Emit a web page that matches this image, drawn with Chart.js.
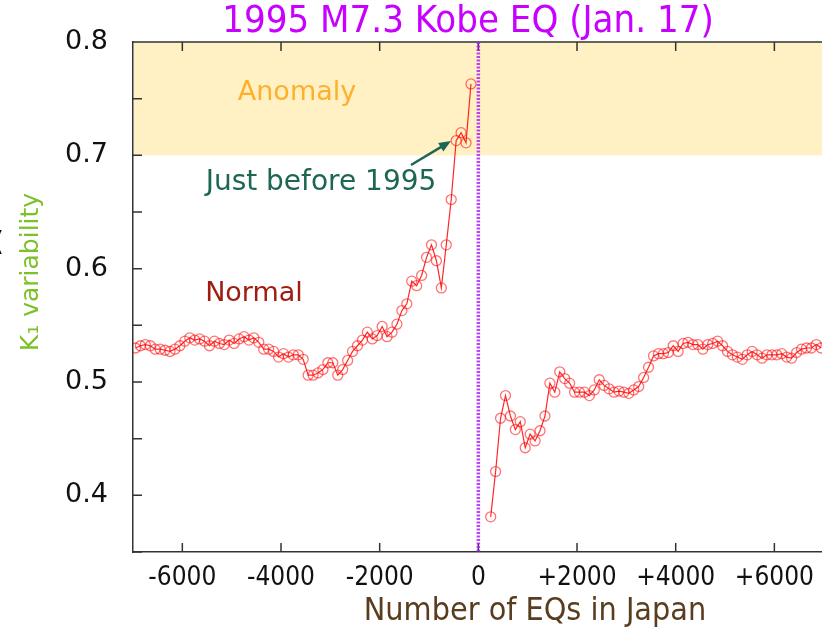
<!DOCTYPE html>
<html lang="en">
<head>
<meta charset="UTF-8">
<title>1995 M7.3 Kobe EQ | K1 variability</title>
<script src="https://cdn.jsdelivr.net/npm/chart.js"></script>
<style>
  html, body { margin: 0; padding: 0; background: #fff; overflow: hidden; }
  #kobeChart { display: block; }
</style>
</head>
<body>
<canvas id="kobeChart" width="830" height="632"></canvas>
<script>
// EQ count relative to the Kobe event, and K1 variability
const beforeX = [-6950, -6850, -6750, -6650, -6550, -6450, -6350, -6250, -6150, -6050,
                 -5950, -5850, -5750, -5650, -5550, -5450, -5350, -5250, -5150, -5050,
                 -4950, -4850, -4750, -4650, -4550, -4450, -4350, -4250, -4150, -4050,
                 -3950, -3850, -3750, -3650, -3550, -3450, -3350, -3250, -3150, -3050,
                 -2950, -2850, -2750, -2650, -2550, -2450, -2350, -2250, -2150, -2050,
                 -1950, -1850, -1750, -1650, -1550, -1450, -1350, -1250, -1150, -1050,
                 -950, -850, -750, -650, -550, -450, -350, -250, -150];
const beforeK = [0.530, 0.532, 0.533, 0.532, 0.529, 0.529, 0.528, 0.527, 0.529, 0.532,
                 0.536, 0.539, 0.537, 0.538, 0.536, 0.532, 0.536, 0.534, 0.533, 0.537,
                 0.534, 0.538, 0.540, 0.537, 0.539, 0.535, 0.529, 0.529, 0.527, 0.522,
                 0.525, 0.522, 0.524, 0.524, 0.520, 0.506, 0.506, 0.508, 0.511, 0.517,
                 0.517, 0.506, 0.511, 0.519, 0.527, 0.532, 0.537, 0.544, 0.538, 0.541,
                 0.549, 0.540, 0.544, 0.551, 0.563, 0.569, 0.589, 0.585, 0.594, 0.610,
                 0.621, 0.607, 0.583, 0.621, 0.661, 0.713, 0.720, 0.711, 0.763];

const afterX = [250, 350, 450, 550, 650, 750, 850, 950, 1050, 1150,
                1250, 1350, 1450, 1550, 1650, 1750, 1850, 1950, 2050, 2150,
                2250, 2350, 2450, 2550, 2650, 2750, 2850, 2950, 3050, 3150,
                3250, 3350, 3450, 3550, 3650, 3750, 3850, 3950, 4050, 4150,
                4250, 4350, 4450, 4550, 4650, 4750, 4850, 4950, 5050, 5150,
                5250, 5350, 5450, 5550, 5650, 5750, 5850, 5950, 6050, 6150,
                6250, 6350, 6450, 6550, 6650, 6750, 6850, 6950];
const afterK = [0.381, 0.421, 0.468, 0.488, 0.470, 0.458, 0.465, 0.442, 0.454, 0.448,
                0.457, 0.470, 0.499, 0.491, 0.509, 0.503, 0.499, 0.491, 0.491, 0.491,
                0.488, 0.493, 0.502, 0.497, 0.494, 0.491, 0.492, 0.491, 0.490, 0.493,
                0.496, 0.504, 0.513, 0.523, 0.525, 0.525, 0.526, 0.532, 0.527, 0.534,
                0.535, 0.533, 0.533, 0.529, 0.533, 0.534, 0.536, 0.532, 0.527, 0.524,
                0.522, 0.520, 0.524, 0.527, 0.524, 0.521, 0.524, 0.524, 0.524, 0.525,
                0.522, 0.521, 0.526, 0.529, 0.530, 0.530, 0.533, 0.530];

const xTicks = [-6000, -4000, -2000, 0, 2000, 4000, 6000];
const yTicks = [0.4, 0.5, 0.6, 0.7, 0.8];
const yMinorTicks = [0.35, 0.45, 0.55, 0.65, 0.75];
const anomalyBand = [0.7, 0.8];
const eventX = 0;

const FONT = "'DejaVu Sans Condensed', 'DejaVu Sans', sans-serif";
const FONT_WIDE = "'DejaVu Sans', sans-serif";

// band, inward ticks, event line, then the labels on top
const decorations = {
  id: 'decorations',
  beforeDatasetsDraw(chart) {
    const { ctx, chartArea: a, scales: { x, y } } = chart;
    ctx.save();

    const bandTop = y.getPixelForValue(anomalyBand[1]);
    const bandBottom = y.getPixelForValue(anomalyBand[0]);
    ctx.fillStyle = '#fff1c4';
    ctx.fillRect(a.left + 1, bandTop, a.right - a.left, bandBottom - bandTop);

    ctx.strokeStyle = '#333';
    ctx.lineWidth = 1.5;
    ctx.beginPath();
    ctx.moveTo(a.left, a.top);
    ctx.lineTo(a.right, a.top);
    xTicks.forEach(v => {
      const px = x.getPixelForValue(v);
      ctx.moveTo(px, a.bottom); ctx.lineTo(px, a.bottom - 9);
      ctx.moveTo(px, a.top); ctx.lineTo(px, a.top + 9);
    });
    yTicks.concat(yMinorTicks).forEach(v => {
      const py = y.getPixelForValue(v);
      ctx.moveTo(a.left, py); ctx.lineTo(a.left + 9, py);
    });
    ctx.stroke();

    const ex = x.getPixelForValue(eventX);
    ctx.strokeStyle = 'rgba(180, 30, 255, 0.85)';
    ctx.lineWidth = 3.5;
    ctx.setLineDash([2, 1.5]);
    ctx.beginPath();
    ctx.moveTo(ex, a.top);
    ctx.lineTo(ex, a.bottom);
    ctx.stroke();
    ctx.restore();
  },
  afterDraw(chart) {
    const { ctx } = chart;
    ctx.save();
    ctx.textAlign = 'center';
    ctx.textBaseline = 'middle';

    ctx.font = `38px ${FONT}`;
    ctx.fillStyle = '#c800ff';
    ctx.fillText('1995 M7.3 Kobe EQ (Jan. 17)', 468, 22);

    ctx.font = `27px ${FONT_WIDE}`;
    ctx.fillStyle = '#ffb02a';
    ctx.fillText('Anomaly', 297, 93);
    ctx.fillStyle = '#a01c10';
    ctx.fillText('Normal', 254, 294);
    ctx.font = `28px ${FONT_WIDE}`;
    ctx.fillStyle = '#1d6654';
    ctx.fillText('Just before 1995', 321, 183);

    // arrow to the points just before the event
    const x0 = 411, y0 = 165, x1 = 451, y1 = 141;
    const ang = Math.atan2(y1 - y0, x1 - x0);
    ctx.strokeStyle = '#1d6654';
    ctx.fillStyle = '#1d6654';
    ctx.lineWidth = 2.5;
    ctx.beginPath();
    ctx.moveTo(x0, y0);
    ctx.lineTo(x1 - 8 * Math.cos(ang), y1 - 8 * Math.sin(ang));
    ctx.stroke();
    ctx.beginPath();
    ctx.moveTo(x1, y1);
    ctx.lineTo(x1 - 12 * Math.cos(ang) + 5 * Math.sin(ang), y1 - 12 * Math.sin(ang) - 5 * Math.cos(ang));
    ctx.lineTo(x1 - 12 * Math.cos(ang) - 5 * Math.sin(ang), y1 - 12 * Math.sin(ang) + 5 * Math.cos(ang));
    ctx.closePath();
    ctx.fill();

    ctx.font = `32px ${FONT}`;
    ctx.fillStyle = '#5a3d1e';
    ctx.fillText('Number of EQs in Japan', 535, 612);

    ctx.font = `25px ${FONT_WIDE}`;
    ctx.fillStyle = '#7dc128';
    ctx.save();
    ctx.translate(31, 272);
    ctx.rotate(-Math.PI / 2);
    ctx.fillText('K\u2081 variability', 0, 0);
    ctx.restore();

    // clipped bracket at the left edge of the picture
    ctx.fillStyle = '#000';
    ctx.font = `26px ${FONT}`;
    ctx.fillText('(', -1, 243);
    ctx.restore();
  }
};

const seriesStyle = {
  showLine: true,
  borderColor: 'rgba(255, 0, 0, 0.85)',
  borderWidth: 1.2,
  pointRadius: 5,
  pointBorderWidth: 1.3,
  pointBorderColor: 'rgba(255, 0, 0, 0.55)',
  pointBackgroundColor: 'rgba(0, 0, 0, 0)',
  tension: 0
};

new Chart(document.getElementById('kobeChart'), {
  type: 'scatter',
  data: {
    datasets: [
      Object.assign({ data: beforeX.map((v, i) => ({ x: v, y: beforeK[i] })) }, seriesStyle),
      Object.assign({ data: afterX.map((v, i) => ({ x: v, y: afterK[i] })) }, seriesStyle)
    ]
  },
  options: {
    responsive: false,
    animation: false,
    layout: { padding: { top: 42, right: 5, left: 0, bottom: 0 } },
    plugins: { legend: { display: false }, tooltip: { enabled: false } },
    scales: {
      x: {
        type: 'linear',
        min: -7000,
        max: 7000,
        afterBuildTicks: s => { s.ticks = xTicks.map(v => ({ value: v })); },
        afterFit: s => { s.height = 80; },
        grid: { display: false, drawTicks: false },
        border: { display: true, color: '#333', width: 1.5 },
        ticks: {
          padding: 11,
          color: '#111',
          font: { family: FONT, size: 26 },
          maxRotation: 0,
          callback: v => (v > 0 ? '+' + v : String(v))
        }
      },
      y: {
        min: 0.35,
        max: 0.8,
        afterBuildTicks: s => { s.ticks = yTicks.map(v => ({ value: v })); },
        afterFit: s => { s.width = 133; },
        grid: { display: false, drawTicks: false },
        border: { display: true, color: '#333', width: 1.5 },
        ticks: {
          padding: 25,
          color: '#111',
          font: { family: FONT_WIDE, size: 27 },
          callback: v => v.toFixed(1)
        }
      }
    }
  },
  plugins: [decorations]
});
</script>
</body>
</html>
